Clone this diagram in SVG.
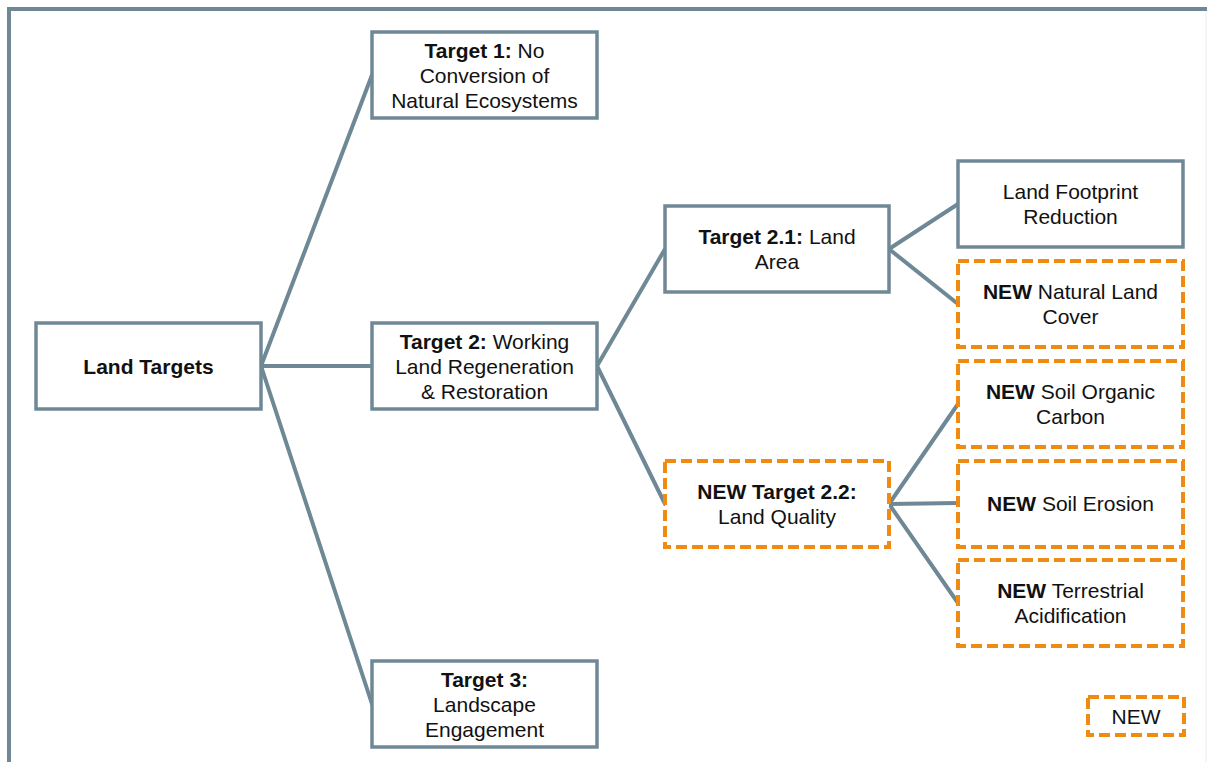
<svg xmlns="http://www.w3.org/2000/svg" width="1207" height="762" viewBox="0 0 1207 762">
<style>
.box{fill:#fff;stroke:#6F8896;stroke-width:3.5}
.new{fill:#fff;stroke:#EF8A12;stroke-width:4;stroke-dasharray:11 5}
.con{stroke:#6F8896;stroke-width:4;fill:none;stroke-linecap:round}
text{font-family:"Liberation Sans",Arial,sans-serif;font-size:21px;fill:#111;text-anchor:middle}
.b{font-weight:bold}
</style>
<rect width="1207" height="762" fill="#fff"/>
<path d="M9,762 V9 H1207" fill="none" stroke="#6F8896" stroke-width="4"/>
<line x1="1206" y1="11" x2="1206" y2="762" stroke="#E8ECEE" stroke-width="1"/>
<g id="connectors">
<line class="con" x1="261" y1="366" x2="372" y2="75"/>
<line class="con" x1="261" y1="366" x2="372" y2="366"/>
<line class="con" x1="261" y1="366" x2="372" y2="704"/>
<line class="con" x1="597" y1="366" x2="665" y2="249"/>
<line class="con" x1="597" y1="366" x2="665" y2="504"/>
<line class="con" x1="889" y1="249" x2="958" y2="204"/>
<line class="con" x1="889" y1="249" x2="958" y2="304"/>
<line class="con" x1="889" y1="504" x2="958" y2="404"/>
<line class="con" x1="889" y1="504" x2="958" y2="503"/>
<line class="con" x1="889" y1="504" x2="958" y2="603"/>
</g>
<g id="land-targets"><rect class="box" x="36" y="323" width="225" height="86"/><text x="148.5" y="373.5" class="b">Land Targets</text></g>
<g id="target1"><rect class="box" x="372" y="32" width="225" height="86"/><text x="484.5" y="57.5"><tspan class="b">Target 1:</tspan> No</text><text x="484.5" y="82.5">Conversion of</text><text x="484.5" y="107.5">Natural Ecosystems</text></g>
<g id="target2"><rect class="box" x="372" y="323" width="225" height="86"/><text x="484.5" y="348.5"><tspan class="b">Target 2:</tspan> Working</text><text x="484.5" y="373.5">Land Regeneration</text><text x="484.5" y="398.5">&amp; Restoration</text></g>
<g id="target3"><rect class="box" x="372" y="661" width="225" height="86"/><text x="484.5" y="687" class="b">Target 3:</text><text x="484.5" y="712">Landscape</text><text x="484.5" y="737">Engagement</text></g>
<g id="target21"><rect class="box" x="665" y="206" width="224" height="86"/><text x="777" y="244"><tspan class="b">Target 2.1:</tspan> Land</text><text x="777" y="269">Area</text></g>
<g id="target22"><rect class="new" x="665" y="461" width="224" height="86"/><text x="777" y="499" class="b">NEW Target 2.2:</text><text x="777" y="524">Land Quality</text></g>
<g id="land-footprint"><rect class="box" x="958" y="161" width="225" height="86"/><text x="1070.5" y="198.5">Land Footprint</text><text x="1070.5" y="223.5">Reduction</text></g>
<g id="natural-land-cover"><rect class="new" x="958" y="261" width="225" height="86"/><text x="1070.5" y="299"><tspan class="b">NEW</tspan> Natural Land</text><text x="1070.5" y="324">Cover</text></g>
<g id="soil-organic-carbon"><rect class="new" x="958" y="361" width="225" height="86"/><text x="1070.5" y="398.5"><tspan class="b">NEW</tspan> Soil Organic</text><text x="1070.5" y="423.5">Carbon</text></g>
<g id="soil-erosion"><rect class="new" x="958" y="461" width="225" height="86"/><text x="1070.5" y="510.5"><tspan class="b">NEW</tspan> Soil Erosion</text></g>
<g id="terrestrial-acidification"><rect class="new" x="958" y="560" width="225" height="86"/><text x="1070.5" y="598"><tspan class="b">NEW</tspan> Terrestrial</text><text x="1070.5" y="622.5">Acidification</text></g>
<g id="legend"><rect class="new" x="1088" y="697" width="96" height="38"/><text x="1136" y="723.5">NEW</text></g>
</svg>
